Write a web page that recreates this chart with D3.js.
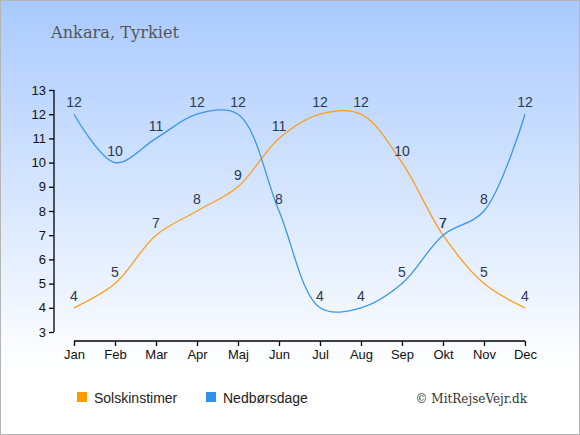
<!DOCTYPE html>
<html>
<head>
<meta charset="utf-8">
<script src="https://cdn.jsdelivr.net/npm/d3@7"></script>
<style>
  html, body { margin: 0; padding: 0; background: #fff; }
  svg { display: block; }
</style>
</head>
<body>
<svg id="chart" width="580" height="435"></svg>
<script>
const months = ["Jan", "Feb", "Mar", "Apr", "Maj", "Jun", "Jul", "Aug", "Sep", "Okt", "Nov", "Dec"];
const sunHours = [4, 5, 7, 8, 9, 11, 12, 12, 10, 7, 5, 4];
const rainDays = [12, 10, 11, 12, 12, 8, 4, 4, 5, 7, 8, 12];
const yTicks = [3, 4, 5, 6, 7, 8, 9, 10, 11, 12, 13];
const seriesNames = ["Solskinstimer", "Nedbørsdage"];
const seriesColors = ["#ff9e1b", "#3a97e8"];
const legendColors = ["#ff9900", "#2f92e6"];

const svg = d3.select("#chart");
const width = 580, height = 435;

// background gradient
const defs = svg.append("defs");
const grad = defs.append("linearGradient")
  .attr("id", "bg").attr("x1", 0).attr("y1", 0).attr("x2", 0).attr("y2", 1);
grad.append("stop").attr("offset", "0%").attr("stop-color", "#a9caff");
grad.append("stop").attr("offset", "85%").attr("stop-color", "#ffffff");
grad.append("stop").attr("offset", "100%").attr("stop-color", "#ffffff");

svg.append("rect")
  .attr("x", 0.5).attr("y", 0.5)
  .attr("width", width - 1).attr("height", height - 1)
  .attr("fill", "url(#bg)")
  .attr("stroke", "#b5b5b5");

svg.append("text")
  .attr("x", 51).attr("y", 38)
  .attr("font-family", "'DejaVu Serif', serif")
  .attr("font-size", 16.2)
  .attr("fill", "#555")
  .text("Ankara, Tyrkiet");

const x = d3.scalePoint().domain(months).range([74, 525]);
const y = d3.scaleLinear().domain([3, 13]).range([332, 90]);

// axes
const xAxis = svg.append("g")
  .attr("transform", "translate(0,341)")
  .call(d3.axisBottom(x).tickSize(5).tickPadding(4));
const yAxis = svg.append("g")
  .attr("transform", "translate(54,0)")
  .call(d3.axisLeft(y).tickValues(yTicks).tickSize(5).tickPadding(3));

[xAxis, yAxis].forEach(a => {
  a.select(".domain").attr("stroke", "#000").attr("stroke-width", 1.3);
  a.selectAll(".tick line").attr("stroke", "#000").attr("stroke-width", 1.3);
  a.selectAll(".tick text")
    .attr("font-family", "'Liberation Sans', Arial, sans-serif")
    .attr("font-size", 13)
    .attr("fill", "#111");
});
// axis lines without end caps
xAxis.select(".domain").attr("d", `M${x("Jan")},0H${x("Dec")}`);
yAxis.select(".domain").attr("d", `M0,${y(13)}V${y(3)}`);

const line = d3.line()
  .x((d, i) => x(months[i]))
  .y(d => y(d))
  .curve(d3.curveCatmullRom.alpha(0.5));

[sunHours, rainDays].forEach((vals, k) => {
  svg.append("path")
    .datum(vals)
    .attr("d", line)
    .attr("fill", "none")
    .attr("stroke", seriesColors[k])
    .attr("stroke-width", 1.3);
});

[sunHours, rainDays].forEach(vals => {
  svg.append("g")
    .selectAll("text")
    .data(vals)
    .join("text")
    .attr("x", (d, i) => x(months[i]))
    .attr("y", d => y(d) - 7)
    .attr("text-anchor", "middle")
    .attr("font-family", "'Liberation Sans', Arial, sans-serif")
    .attr("font-size", 14)
    .attr("fill", "#2b3853")
    .text(d => d);
});

// legend
const legend = svg.append("g").attr("transform", "translate(77,392)");
const legendX = [0, 129];
seriesNames.forEach((name, k) => {
  const g = legend.append("g").attr("transform", `translate(${legendX[k]},0)`);
  g.append("rect")
    .attr("x", 0).attr("y", 0)
    .attr("width", 10).attr("height", 10)
    .attr("fill", legendColors[k]);
  g.append("text")
    .attr("x", 17).attr("y", 10.5)
    .attr("font-family", "'Liberation Sans', Arial, sans-serif")
    .attr("font-size", 14)
    .attr("fill", "#222")
    .text(name);
});

svg.append("text")
  .attr("x", 527).attr("y", 403)
  .attr("text-anchor", "end")
  .attr("font-family", "'DejaVu Serif', serif")
  .attr("font-size", 12)
  .attr("fill", "#333")
  .text("© MitRejseVejr.dk");
</script>
</body>
</html>
